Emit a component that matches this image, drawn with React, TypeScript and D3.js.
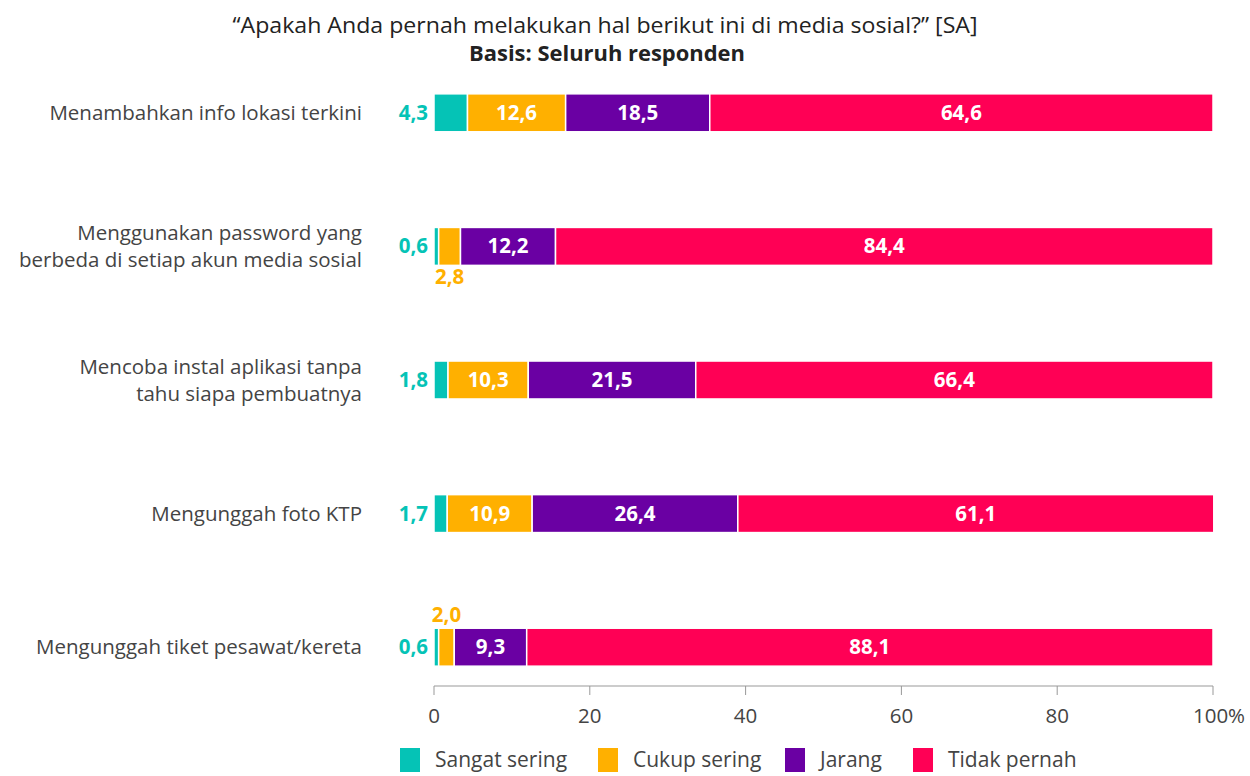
import { useMemo } from "react";
import * as d3 from "d3";

const WIDTH = 1250;
const HEIGHT = 776;

const categories = [
  ["Menambahkan info lokasi terkini"],
  ["Menggunakan password yang", "berbeda di setiap akun media sosial"],
  ["Mencoba instal aplikasi tanpa", "tahu siapa pembuatnya"],
  ["Mengunggah foto KTP"],
  ["Mengunggah tiket pesawat/kereta"],
];

const seriesNames = ["Sangat sering", "Cukup sering", "Jarang", "Tidak pernah"];
const colors = ["#05c3b6", "#ffb000", "#6a00a3", "#ff0055"];

const sangatSering = [4.3, 0.6, 1.8, 1.7, 0.6];
const cukupSering = [12.6, 2.8, 10.3, 10.9, 2.0];
const jarang = [18.5, 12.2, 21.5, 26.4, 9.3];
const tidakPernah = [64.6, 84.4, 66.4, 61.1, 88.1];

const xTicks = [0, 20, 40, 60, 80, 100];

const LABEL_FONT = "'Open Sans', sans-serif";
const fmt = (v: number) => v.toFixed(1).replace(".", ",");

const App = () => {
  const x = useMemo(() => d3.scaleLinear().domain([0, 100]).range([434, 1213]), []);
  const y = useMemo(
    () =>
      d3
        .scaleBand()
        .domain(categories.map((_, i) => String(i)))
        .range([46, 714])
        .paddingInner(0.716)
        .paddingOuter(0.358),
    []
  );

  const rows = categories.map((c, i) => ({
    key: String(i),
    values: [sangatSering[i], cukupSering[i], jarang[i], tidakPernah[i]],
  }));

  const stack = d3
    .stack<any>()
    .keys(["0", "1", "2", "3"])
    .value((d, k) => d.values[+k]);
  const layers = stack(rows);

  const bh = y.bandwidth();

  return (
    <svg width={WIDTH} height={HEIGHT} style={{ position: "absolute", left: 0, top: 0 }}>
      <rect width={WIDTH} height={HEIGHT} fill="#fff" />
      <text
        x={605}
        y={33}
        textAnchor="middle"
        fontFamily="'Open Sans', sans-serif"
        fontSize={22}
        textLength={745}
        lengthAdjust="spacingAndGlyphs"
        fill="#222"
      >
        “Apakah Anda pernah melakukan hal berikut ini di media sosial?” [SA]
      </text>
      <text
        x={607}
        y={61}
        textAnchor="middle"
        fontFamily="'Open Sans', sans-serif"
        fontWeight="bold"
        fontSize={21}
        textLength={276}
        lengthAdjust="spacingAndGlyphs"
        fill="#222"
      >
        Basis: Seluruh responden
      </text>

      {/* category labels */}
      {categories.map((lines, i) => {
        const cy = (y(String(i)) as number) + bh / 2;
        return (
          <text
            key={i}
            x={362}
            textAnchor="end"
            fontFamily={LABEL_FONT}
            fontSize={20.5}
            fill="#444"
          >
            {lines.map((l, j) => (
              <tspan key={j} x={362} y={cy + 7 + (j - (lines.length - 1) / 2) * 27}>
                {l}
              </tspan>
            ))}
          </text>
        );
      })}

      {/* bars */}
      {layers.map((layer, li) => (
        <g key={li}>
          {layer.map((d, i) => (
            <rect
              key={i}
              x={x(d[0])}
              y={y(String(i))}
              width={x(d[1]) - x(d[0])}
              height={bh}
              fill={colors[li]}
              stroke="#fff"
              strokeWidth={1.5}
            />
          ))}
        </g>
      ))}

      {/* value labels */}
      {layers.map((layer, li) =>
        layer.map((d, i) => {
          const v = d[1] - d[0];
          const top = y(String(i)) as number;
          const cy = top + bh / 2 + 7;
          let lx = (x(d[0]) + x(d[1])) / 2;
          let ly = cy;
          let anchor = "middle";
          let fill = "#fff";
          if (li === 0) {
            lx = x(0) - 6;
            anchor = "end";
            fill = colors[0];
          } else if (v < 5) {
            fill = colors[li];
            ly = i === 4 ? top - 6 : top + bh + 19;
            lx = (x(d[0]) + x(d[1])) / 2;
          }
          return (
            <text
              key={`${li}-${i}`}
              x={lx}
              y={ly}
              textAnchor={anchor}
              fontFamily={LABEL_FONT}
              fontWeight="bold"
              fontSize={20.5}
              fill={fill}
            >
              {fmt(v)}
            </text>
          );
        })
      )}

      {/* x axis */}
      <g>
        <line x1={x(0)} x2={x(100)} y1={686} y2={686} stroke="#999" />
        {xTicks.map((t) => (
          <g key={t}>
            <line x1={x(t)} x2={x(t)} y1={686} y2={695} stroke="#999" />
            <text
              x={x(t) + (t === 100 ? 6 : 0)}
              y={723}
              textAnchor="middle"
              fontFamily={LABEL_FONT}
              fontSize={20.5}
              fill="#444"
            >
              {t === 100 ? "100%" : t}
            </text>
          </g>
        ))}
      </g>

      {/* legend */}
      {seriesNames.map((s, i) => {
        const lx = [400, 598, 785, 913][i];
        return (
          <g key={s}>
            <rect x={lx} y={748} width={20} height={24} fill={colors[i]} />
            <text x={lx + 35} y={767} fontFamily={LABEL_FONT} fontSize={21} fill="#444">
              {s}
            </text>
          </g>
        );
      })}
    </svg>
  );
};

export default App;
